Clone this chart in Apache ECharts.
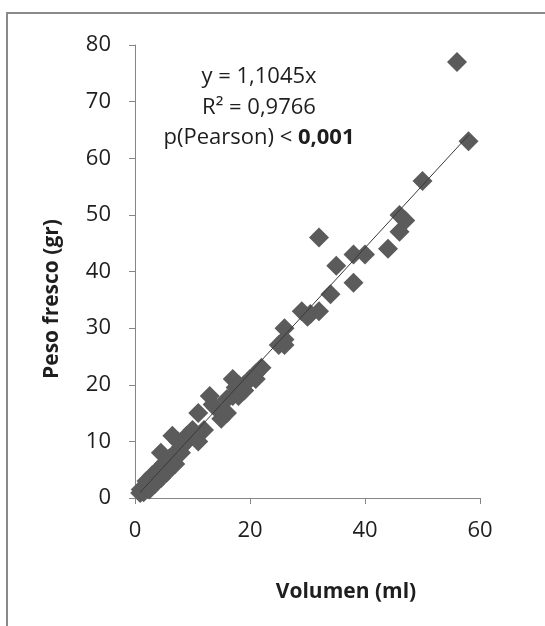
<!DOCTYPE html>
<html>
<head>
<meta charset="utf-8">
<script src="https://cdn.jsdelivr.net/npm/echarts@6/dist/echarts.min.js"></script>
<style>
html,body{margin:0;padding:0;background:#fff;}
#chart{width:545px;height:626px;}
</style>
</head>
<body>
<div id="chart"></div>
<script>
// Data: [Volumen (ml), Peso fresco (gr)]
const volumen = [0.9, 1, 1.5, 2, 2, 2.5, 3, 3, 3.5, 4, 4, 4.5, 4.5, 5, 5, 5.5, 6, 6, 6.5, 7, 7, 7.5, 8, 8, 9, 9, 10, 10, 11, 11, 12,
  13, 13.5, 14, 15, 15.5, 16, 16, 17, 17, 17.5, 18, 18, 19, 19, 20, 21, 21, 22,
  25, 26, 26, 26, 29, 30, 30.5, 32, 32, 34, 35, 38, 38, 40, 44, 46, 46, 47, 50, 56, 58];
const peso = [0.9, 1.5, 1, 2, 3, 1.5, 3, 4, 2.5, 4, 5, 3.5, 8, 6, 5, 4.5, 6, 7, 11, 8, 6, 10, 9, 8, 11, 10, 11, 12, 10, 15, 12,
  18, 16.5, 16, 14, 15, 15, 17.5, 21, 18, 19.5, 20, 18, 20, 19, 21, 21, 22, 23,
  27, 27, 28, 30, 33, 32, 32.5, 33, 46, 36, 41, 43, 38, 43, 44, 47, 50, 49, 56, 77, 63];
const slope = 1.1045;
const xTicks = [0, 20, 40, 60];
const yTicks = [0, 10, 20, 30, 40, 50, 60, 70, 80];
const xTitle = 'Volumen (ml)';
const yTitle = 'Peso fresco (gr)';

const points = volumen.map((v, i) => [v, peso[i]]);
const xMin = Math.min(...volumen), xMax = Math.max(...volumen);
const trend = [[xMin, slope * xMin], [xMax, slope * xMax]];

const chart = echarts.init(document.getElementById('chart'), null, {renderer: 'canvas'});
const axisColor = '#868686';
const txt = '#1e1e1e';
chart.setOption({
  backgroundColor: '#fff',
  animation: false,
  grid: {left: 135, top: 45, width: 345, height: 453},
  xAxis: {
    type: 'value', min: xTicks[0], max: xTicks[xTicks.length - 1], interval: 20,
    axisLine: {lineStyle: {color: axisColor, width: 1}},
    axisTick: {show: true, length: 6, lineStyle: {color: axisColor}},
    splitLine: {show: false},
    axisLabel: {color: txt, fontFamily: 'Open Sans', fontSize: 22, margin: 22}
  },
  yAxis: {
    type: 'value', min: yTicks[0], max: yTicks[yTicks.length - 1], interval: 10,
    axisLine: {show: true, lineStyle: {color: axisColor, width: 1}},
    axisTick: {show: true, length: 6, lineStyle: {color: axisColor}},
    splitLine: {show: false},
    axisLabel: {color: txt, fontFamily: 'Open Sans', fontSize: 22, margin: 24}
  },
  series: [
    {
      type: 'line', data: trend, symbol: 'none', z: 3,
      lineStyle: {color: '#3a3a3a', width: 1}
    },
    {
      type: 'scatter', data: points, symbol: 'diamond', symbolSize: [20, 20], z: 2,
      itemStyle: {color: '#5b5b5b', opacity: 1}
    }
  ],
  graphic: [
    {type: 'rect', shape: {x: 7, y: 13, width: 700, height: 700}, style: {fill: 'none', stroke: '#8a8a8a', lineWidth: 2}, z: -10},
    {type: 'text', x: 259, y: 77, style: {text: 'y = 1,1045x', font: '22px "Open Sans"', fill: txt, textAlign: 'center', textVerticalAlign: 'middle'}},
    {type: 'text', x: 259, y: 108, style: {text: 'R² = 0,9766', font: '22px "Open Sans"', fill: txt, textAlign: 'center', textVerticalAlign: 'middle'}},
    {type: 'text', x: 259, y: 138, style: {
      text: '{n|p(Pearson) < }{b|0,001}', textAlign: 'center', textVerticalAlign: 'middle',
      rich: {
        n: {font: '22px "Open Sans"', fill: txt},
        b: {font: 'bold 22px "Open Sans"', fill: txt}
      }
    }},
    {type: 'text', x: 346, y: 592, style: {text: xTitle, font: 'bold 21px "Open Sans"', fill: txt, textAlign: 'center', textVerticalAlign: 'middle'}},
    {type: 'text', x: 52, y: 299, rotation: Math.PI / 2, style: {text: yTitle, font: 'bold 21px "Open Sans"', fill: txt, textAlign: 'center', textVerticalAlign: 'middle'}}
  ]
});
</script>
</body>
</html>
